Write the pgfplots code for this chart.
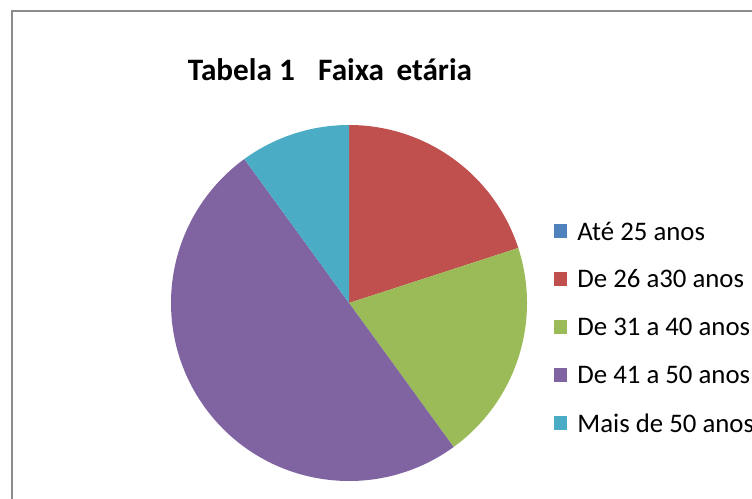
\documentclass[border=0pt]{standalone}
\usepackage{pgfplots}
\usepackage{pgfplotstable}
\pgfplotsset{compat=1.18}
\usepackage{fontspec}
\setmainfont{Carlito}
\definecolor{c0}{HTML}{4F81BD}
\definecolor{c1}{HTML}{C0504D}
\definecolor{c2}{HTML}{9BBB59}
\definecolor{c3}{HTML}{8064A2}
\definecolor{c4}{HTML}{4BACC6}
\definecolor{framegray}{HTML}{8C8C8C}
\pgfplotstableread{
idx value label
0 0 {Até 25 anos}
1 20 {De 26 a30 anos}
2 20 {De 31 a 40 anos}
3 50 {De 41 a 50 anos}
4 10 {Mais de 50 anos}
}\agedata
\begin{document}
\begin{tikzpicture}
\begin{axis}[
  x=0.5pt, y=0.5pt,
  xmin=0, xmax=752, ymin=0, ymax=499,
  hide axis, clip=false,
]
\draw[framegray, line width=0.8pt] (axis cs:12,0) -- (axis cs:12,488) -- (axis cs:752,488);
\node[font=\bfseries\fontsize{15.6}{18}\selectfont] at (axis cs:330,429) {Tabela 1\hspace{0.75em}Faixa\hspace{0.4em}etária};
\gdef\startang{90}
\pgfplotsinvokeforeach{0,...,4}{
  \pgfplotstablegetelem{#1}{value}\of\agedata
  \let\v\pgfplotsretval
  \pgfmathsetmacro\endang{\startang-3.6*\v}
  \pgfplotstablegetelem{#1}{label}\of\agedata
  \let\lab\pgfplotsretval
  \pgfmathsetmacro\ly{268-48*#1}
  \edef\temp{%
    \noexpand\fill[c#1] (axis cs:349,196) -- ++(\startang:89pt) arc[start angle=\startang, end angle=\endang, radius=89pt] -- cycle;
    \noexpand\fill[c#1] (axis cs:554,\ly-7) rectangle (axis cs:567,\ly+7);
    \noexpand\node[anchor=west, inner sep=0pt, font=\noexpand\fontsize{13.4}{15}\noexpand\selectfont] at (axis cs:577,\ly) {\lab};
  }
  \temp
  \global\let\startang\endang
}
\end{axis}
\pgfresetboundingbox
\path[use as bounding box] (current axis.south west) rectangle (current axis.north east);
\end{tikzpicture}
\end{document}
